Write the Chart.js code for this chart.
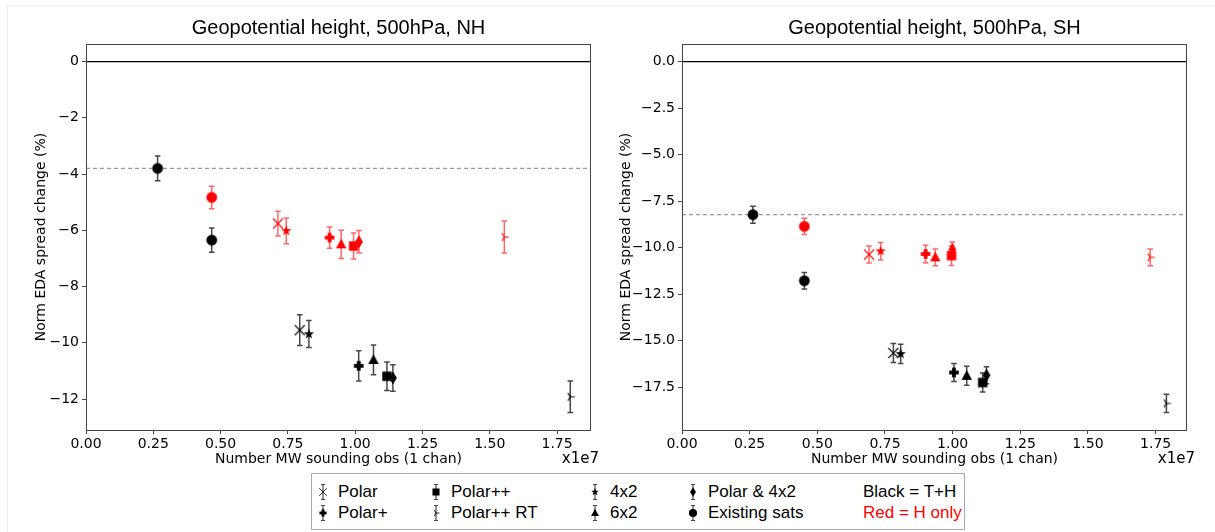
<!DOCTYPE html>
<html><head><meta charset="utf-8">
<script src="https://cdn.jsdelivr.net/npm/chart.js@4.4.1/dist/chart.umd.min.js"></script>
<style>
html,body{margin:0;padding:0;background:#fff;}
body{width:1215px;height:532px;position:relative;overflow:hidden;font-family:"DejaVu Sans",sans-serif;}
#frame{position:absolute;left:7px;top:5px;width:1240px;height:560px;border-left:1px solid #eee;border-top:1px solid #eee;}
canvas.panel{position:absolute;top:0;}
#legend{position:absolute;left:311px;top:473px;width:654px;height:57px;border:1px solid #aaa;box-sizing:border-box;font-family:"Liberation Sans",Arial,sans-serif;font-size:17px;color:#000;}
.lg{position:absolute;white-space:nowrap;line-height:20px;height:20px;}
.lgicon{position:absolute;}
</style>
</head><body>
<div id="frame"></div>
<canvas id="nh" class="panel" width="600" height="470" style="left:0px"></canvas>
<canvas id="sh" class="panel" width="607" height="470" style="left:594px"></canvas>
<div id="legend"></div>
<script>
// ---- data ----
const categories = ['Polar','Polar+','Polar++','Polar++ RT','4x2','6x2','Polar & 4x2','Existing sats'];
// x values in units of 1e7 obs
const nhTHx = [0.794, 1.013, 1.118, 1.799, 0.828, 1.068, 1.140, 0.467];
const nhTHy = [-9.55, -10.82, -11.19, -11.92, -9.69, -10.61, -11.25, -6.35];
const nhTHerr = [0.55, 0.54, 0.51, 0.56, 0.48, 0.53, 0.47, 0.43];
const nhHx = [0.713, 0.905, 0.994, 1.554, 0.744, 0.948, 1.014, 0.467];
const nhHy = [-5.76, -6.26, -6.56, -6.24, -6.02, -6.50, -6.41, -4.83];
const nhHerr = [0.44, 0.38, 0.46, 0.57, 0.46, 0.50, 0.40, 0.40];
const nhBaseX = [0.266];
const nhBaseY = [-3.80];
const nhBaseErr = [0.44];

const shTHx = [0.781, 1.005, 1.111, 1.790, 0.808, 1.052, 1.125, 0.452];
const shTHy = [-15.66, -16.71, -17.25, -18.37, -15.71, -16.89, -16.86, -11.78];
const shTHerr = [0.51, 0.49, 0.51, 0.49, 0.52, 0.51, 0.46, 0.44];
const shHx = [0.691, 0.900, 0.996, 1.730, 0.734, 0.936, 0.999, 0.452];
const shHy = [-10.37, -10.34, -10.43, -10.52, -10.19, -10.52, -10.10, -8.86];
const shHerr = [0.46, 0.47, 0.53, 0.45, 0.47, 0.45, 0.40, 0.44];
const shBaseX = [0.262];
const shBaseY = [-8.23];
const shBaseErr = [0.46];

const xTicks = [0, 0.25, 0.5, 0.75, 1.0, 1.25, 1.5, 1.75];
const nhYTicks = [0, -2, -4, -6, -8, -10, -12];
const shYTicks = [0, -2.5, -5, -7.5, -10, -12.5, -15, -17.5];

const nhTitle = 'Geopotential height, 500hPa, NH';
const shTitle = 'Geopotential height, 500hPa, SH';
const yLabel = 'Norm EDA spread change (%)';
const xLabel = 'Number MW sounding obs (1 chan)';
const offsetLabel = 'x1e7';
const noteTH = 'Black = T+H';
const noteH = 'Red = H only';

// ---- styles ----
const markerFor = {'Polar':'x','Polar+':'plus','Polar++':'square','Polar++ RT':'tri','4x2':'star','6x2':'triangle','Polar & 4x2':'diamond','Existing sats':'circle'};
const BLACK = '#000000', RED = '#ff0000';

function makeMarker(kind, color, s) {
  const c = document.createElement('canvas');
  c.width = 18; c.height = 18;
  const g = c.getContext('2d');
  g.translate(9, 9); g.scale(s, s);
  g.fillStyle = color; g.strokeStyle = color; g.lineWidth = 1.1;
  g.beginPath();
  switch (kind) {
    case 'circle': g.arc(0, 0, 5.4, 0, Math.PI * 2); g.fill(); break;
    case 'square': g.fillRect(-4.7, -4.7, 9.4, 9.4); break;
    case 'triangle': g.moveTo(0, -5.8); g.lineTo(5.2, 3.9); g.lineTo(-5.2, 3.9); g.closePath(); g.fill(); break;
    case 'plus': g.fillRect(-1.9, -4.8, 3.8, 9.6); g.fillRect(-4.8, -1.9, 9.6, 3.8); break;
    case 'star':
      for (let k = 0; k < 10; k++) {
        const r = k % 2 === 0 ? 5.4 : 2.2;
        const a = -Math.PI / 2 + k * Math.PI / 5;
        const px = r * Math.cos(a), py = r * Math.sin(a);
        if (k === 0) g.moveTo(px, py); else g.lineTo(px, py);
      }
      g.closePath(); g.fill(); break;
    case 'x': g.moveTo(-5, -5); g.lineTo(5, 5); g.moveTo(5, -5); g.lineTo(-5, 5); g.stroke(); break;
    case 'diamond': g.moveTo(0, -6.4); g.lineTo(3.9, 0); g.lineTo(0, 6.4); g.lineTo(-3.9, 0); g.closePath(); g.fill(); break;
    case 'tri': g.moveTo(0, 0); g.lineTo(4.5, 0); g.moveTo(0, 0); g.lineTo(-2.3, 3.9); g.moveTo(0, 0); g.lineTo(-2.3, -3.9); g.stroke(); break;
  }
  return c;
}
const markers = {};
for (const cat of categories) {
  markers[cat] = { k: makeMarker(markerFor[cat], BLACK, 1), r: makeMarker(markerFor[cat], RED, 1) };
}

function pts(xs, ys) { return xs.map((x, i) => ({ x: x, y: ys[i] })); }
function fmtMinus(v, d) { const s = Math.abs(v).toFixed(d); return (v < 0 ? '\u2212' : '') + s; }

const decor = {
  id: 'decor',
  beforeDatasetsDraw(chart) {
    const o = chart.options.plugins.decor;
    const { ctx, chartArea: a, scales: { x: xs, y: ys } } = chart;
    ctx.save();
    ctx.beginPath(); ctx.rect(a.left, a.top, a.right - a.left, a.bottom - a.top); ctx.clip();
    let y0 = ys.getPixelForValue(0);
    ctx.strokeStyle = '#000'; ctx.lineWidth = 1.3;
    ctx.beginPath(); ctx.moveTo(a.left, y0); ctx.lineTo(a.right, y0); ctx.stroke();
    let yb = ys.getPixelForValue(o.baseline);
    ctx.strokeStyle = '#999'; ctx.lineWidth = 1.2; ctx.setLineDash([4, 3]);
    ctx.beginPath(); ctx.moveTo(a.left, yb); ctx.lineTo(a.right, yb); ctx.stroke();
    ctx.setLineDash([]);
    chart.data.datasets.forEach(ds => {
      ctx.strokeStyle = ds.errColor; ctx.lineWidth = 1.5;
      ds.data.forEach((p, i) => {
        const e = ds.errs[i];
        const px = xs.getPixelForValue(p.x);
        const t = ys.getPixelForValue(p.y + e), b = ys.getPixelForValue(p.y - e);
        ctx.beginPath();
        ctx.moveTo(px, t); ctx.lineTo(px, b);
        ctx.moveTo(px - 2.8, t); ctx.lineTo(px + 2.8, t);
        ctx.moveTo(px - 2.8, b); ctx.lineTo(px + 2.8, b);
        ctx.stroke();
      });
    });
    ctx.restore();
  },
  afterDraw(chart) {
    const o = chart.options.plugins.decor;
    const { ctx, chartArea: a } = chart;
    ctx.save();
    ctx.strokeStyle = '#444'; ctx.lineWidth = 1;
    ctx.strokeRect(Math.round(a.left) + 0.5, Math.round(a.top) + 0.5, Math.round(a.right - a.left) - 1, Math.round(a.bottom - a.top));
    ctx.fillStyle = '#000';
    ctx.textBaseline = 'middle';
    ctx.textAlign = 'center';
    ctx.font = '20px "Liberation Sans", Arial, sans-serif';
    ctx.fillText(o.title, (a.left + a.right) / 2, 28);
    ctx.font = '14px "DejaVu Sans", sans-serif';
    ctx.fillText(xLabel, (a.left + a.right) / 2, 459);
    ctx.textAlign = 'right';
    ctx.font = '15px "DejaVu Sans", sans-serif';
    ctx.fillText(offsetLabel, a.right + 8, 459);
    ctx.font = '14px "DejaVu Sans", sans-serif';
    ctx.translate(a.left - o.ylabelOff, (a.top + a.bottom) / 2);
    ctx.rotate(-Math.PI / 2);
    ctx.textAlign = 'center';
    ctx.fillText(yLabel, 0, 0);
    ctx.restore();
  }
};

function makePanel(id, cfg) {
  const mk = (cat, col) => markers[cat][col];
  return new Chart(document.getElementById(id), {
    type: 'scatter',
    data: {
      datasets: [
        { label: 'T+H', data: pts(cfg.thx, cfg.thy), errs: cfg.therr, errColor: 'rgba(40,40,40,0.85)',
          pointStyle: categories.map(c => mk(c, 'k')), pointRadius: 6, pointHoverRadius: 6 },
        { label: 'H only', data: pts(cfg.hx, cfg.hy), errs: cfg.herr, errColor: 'rgba(255,0,0,0.6)',
          pointStyle: categories.map(c => mk(c, 'r')), pointRadius: 6, pointHoverRadius: 6 },
        { label: 'Existing sats baseline', data: pts(cfg.bx, cfg.by), errs: cfg.berr, errColor: 'rgba(40,40,40,0.85)',
          pointStyle: [mk('Existing sats', 'k')], pointRadius: 6, pointHoverRadius: 6 }
      ]
    },
    options: {
      responsive: false, animation: false, devicePixelRatio: 1,
      layout: { padding: { top: 44, right: cfg.padRight, bottom: 0, left: 0 } },
      plugins: { legend: { display: false }, tooltip: { enabled: false },
        decor: { baseline: cfg.by[0], title: cfg.title, ylabelOff: cfg.ylabelOff } },
      scales: {
        x: { type: 'linear', min: 0, max: cfg.xmax,
          afterBuildTicks: s => { s.ticks = xTicks.map(v => ({ value: v })); },
          afterFit: s => { s.height = 40; },
          ticks: { callback: v => v.toFixed(2), font: { family: 'DejaVu Sans', size: 14 }, color: '#000', padding: 2, maxRotation: 0, autoSkip: false },
          grid: { display: true, drawOnChartArea: false, drawTicks: true, tickLength: 4, tickColor: '#444' },
          border: { display: false } },
        y: { type: 'linear', min: cfg.ymin, max: cfg.ymax,
          afterBuildTicks: s => { s.ticks = cfg.yticks.map(v => ({ value: v })); },
          afterFit: s => { s.width = cfg.yw; },
          ticks: { callback: v => fmtMinus(v, cfg.yd), font: { family: 'DejaVu Sans', size: 14 }, color: '#000', padding: 3, autoSkip: false },
          grid: { display: true, drawOnChartArea: false, drawTicks: true, tickLength: 4, tickColor: '#444' },
          border: { display: false } }
      }
    },
    plugins: [decor]
  });
}

makePanel('nh', { thx: nhTHx, thy: nhTHy, therr: nhTHerr, hx: nhHx, hy: nhHy, herr: nhHerr,
  bx: nhBaseX, by: nhBaseY, berr: nhBaseErr, xmax: 1.876, ymin: -13.10, ymax: 0.624, yticks: nhYTicks, yd: 0,
  yw: 86, padRight: 9, title: nhTitle, ylabelOff: 45 });
makePanel('sh', { thx: shTHx, thy: shTHy, therr: shTHerr, hx: shHx, hy: shHy, herr: shHerr,
  bx: shBaseX, by: shBaseY, berr: shBaseErr, xmax: 1.866, ymin: -19.80, ymax: 0.943, yticks: shYTicks, yd: 1,
  yw: 88, padRight: 14, title: shTitle, ylabelOff: 56 });

// ---- legend ----
const legendPos = [[322, 0], [322, 1], [435, 0], [435, 1], [594, 0], [594, 1], [692, 0], [692, 1]];
const lg = document.getElementById('legend');
const rowY = [491, 512];
categories.forEach((cat, i) => {
  const [mx, row] = legendPos[i];
  const c = document.createElement('canvas');
  c.width = 14; c.height = 20; c.className = 'lgicon';
  const g = c.getContext('2d');
  g.strokeStyle = 'rgba(40,40,40,0.85)'; g.lineWidth = 1.2;
  g.beginPath(); g.moveTo(7, 2.5); g.lineTo(7, 17.5);
  g.moveTo(5, 2.5); g.lineTo(9, 2.5); g.moveTo(5, 17.5); g.lineTo(9, 17.5); g.stroke();
  g.drawImage(makeMarker(markerFor[cat], BLACK, 0.75), -2, 1);
  c.style.left = (mx - 7 - 311) + 'px'; c.style.top = (rowY[row] - 10 - 473) + 'px';
  lg.appendChild(c);
  const t = document.createElement('div');
  t.className = 'lg'; t.textContent = cat;
  t.style.left = (mx + 15 - 311) + 'px'; t.style.top = (rowY[row] - 10 - 473) + 'px';
  lg.appendChild(t);
});
[[noteTH, '#000', 0], [noteH, '#ff0000', 1]].forEach(([txt, col, row]) => {
  const t = document.createElement('div');
  t.className = 'lg'; t.textContent = txt; t.style.color = col;
  t.style.left = (862 - 311) + 'px'; t.style.top = (rowY[row] - 10 - 473) + 'px';
  lg.appendChild(t);
});
</script>
</body></html>
